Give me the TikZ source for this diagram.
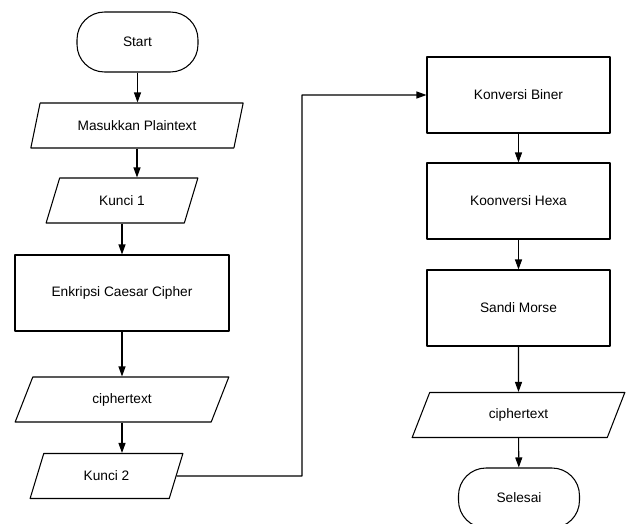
\documentclass[tikz,border=0pt]{standalone}
\usepackage{fontspec}
\setmainfont{Liberation Sans}
\usetikzlibrary{shapes.geometric,arrows.meta}
\begin{document}
\begin{tikzpicture}[x=0.02cm, y=-0.02cm, font=\fontsize{7.8}{9}\selectfont, line join=round, line width=0.6pt, >={Triangle[length=2mm,width=1.4mm]},
	term/.style={draw, rectangle, rounded corners=0.55cm, minimum width=2.42cm, minimum height=1.2cm},
	proc/.style={draw, rectangle, minimum height=1.52cm},
	io/.style={draw, trapezium, trapezium left angle=74, trapezium right angle=106, trapezium stretches=true, minimum height=0.9cm}]
	\clip (0,0) rectangle (630,524);
	% kolom kiri
	\node[term] (start) at (137.5,42) {Start};
	\node[io, minimum width=4.28cm] (plain) at (137,125.5) {Masukkan Plaintext};
	\node[io, minimum width=3.04cm] (kunci1) at (122,200.5) {Kunci 1};
	\node[proc, minimum width=4.28cm] (caesar) at (122,293) {Enkripsi Caesar Cipher};
	\node[io, minimum width=4.28cm] (cipher1) at (122,399.5) {ciphertext};
	\node[io, minimum width=3.06cm] (kunci2) at (106.5,476) {Kunci 2};
	% kolom kanan
	\node[proc, minimum width=3.66cm] (biner) at (518.5,95) {Konversi Biner};
	\node[proc, minimum width=3.66cm] (hexa) at (518.5,201) {Koonversi Hexa};
	\node[proc, minimum width=3.66cm] (morse) at (518.5,308) {Sandi Morse};
	\node[io, minimum width=4.26cm] (cipher2) at (518.5,415) {ciphertext};
	\node[term] (selesai) at (519,498) {Selesai};
	\coordinate (belok) at (302,476);
	\draw[->] (start.south) -- (start.south |- plain.north);
	\draw[->] (plain.south) -- (plain.south |- kunci1.north);
	\draw[->] (kunci1.south) -- (kunci1.south |- caesar.north);
	\draw[->] (caesar.south) -- (caesar.south |- cipher1.north);
	\draw[->] (cipher1.south) -- (cipher1.south |- kunci2.north);
	\draw[->] (kunci2.east) -- (belok) |- (biner.west);
	\draw[->] (biner) -- (hexa);
	\draw[->] (hexa) -- (morse);
	\draw[->] (morse) -- (cipher2);
	\draw[->] (cipher2) -- (selesai);
\end{tikzpicture}
\end{document}
